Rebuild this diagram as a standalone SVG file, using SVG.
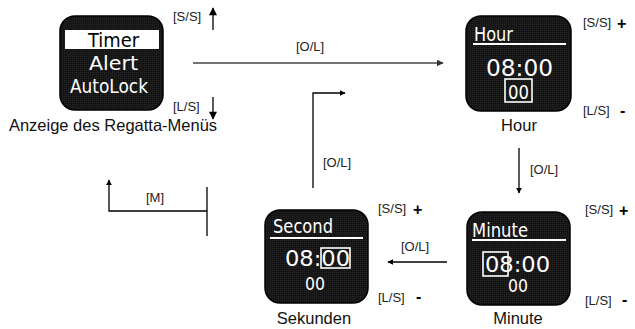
<svg xmlns="http://www.w3.org/2000/svg" width="635" height="329" viewBox="0 0 635 329">
<defs>
<pattern id="dots" width="2" height="2" patternUnits="userSpaceOnUse">
<rect width="2" height="2" fill="#141414"/>
<rect width="1" height="1" fill="#262626"/>
</pattern>
<marker id="ah" viewBox="0 0 10 10" refX="9" refY="5" markerWidth="6" markerHeight="6" orient="auto" markerUnits="userSpaceOnUse">
<path d="M0,0 L10,5 L0,10 z" fill="#000"/>
</marker>
<marker id="ahg" viewBox="0 0 10 10" refX="9" refY="5" markerWidth="7" markerHeight="7" orient="auto" markerUnits="userSpaceOnUse">
<path d="M0,0 L10,5 L0,10 z" fill="#333"/>
</marker>
<marker id="ahb" viewBox="0 0 10 10" refX="9" refY="5" markerWidth="9" markerHeight="8" orient="auto" markerUnits="userSpaceOnUse">
<path d="M0,0 L10,5 L0,10 z" fill="#000"/>
</marker>
</defs>
<style>
.scr{fill:url(#dots);stroke:#000;stroke-width:1.5}
.lcd{font-family:"DejaVu Sans Condensed","DejaVu Sans",sans-serif;fill:#fff}
.cap{font-family:"Liberation Sans",Arial,sans-serif;font-size:16.5px;fill:#111;text-anchor:middle}
.lbl{font-family:"Liberation Sans",Arial,sans-serif;font-size:13px;fill:#222}
.pm{font-family:"Liberation Sans",Arial,sans-serif;font-size:16px;font-weight:bold;fill:#000}
.ln{fill:none;stroke:#000;stroke-width:1.3}
.hl{stroke:#fff;stroke-width:2}
.bx{fill:none;stroke:#fff;stroke-width:1.6}
</style>
<rect width="635" height="329" fill="#fff"/>

<g id="menu">
<rect class="scr" x="60" y="16" width="103" height="94" rx="15"/>
<rect x="65" y="30" width="94" height="19" fill="#fff"/>
<text class="lcd" x="88" y="47" font-size="19" textLength="51" lengthAdjust="spacingAndGlyphs" style="fill:#000">Timer</text>
<text class="lcd" x="89" y="70" font-size="19" textLength="49" lengthAdjust="spacingAndGlyphs">Alert</text>
<text class="lcd" x="70" y="93" font-size="19" textLength="78" lengthAdjust="spacingAndGlyphs">AutoLock</text>
<text class="cap" x="113" y="131">Anzeige des Regatta-Menüs</text>
</g>

<g id="hour">
<rect class="scr" x="466" y="16" width="105" height="95" rx="15"/>
<text class="lcd" x="474" y="41" font-size="19" textLength="39" lengthAdjust="spacingAndGlyphs">Hour</text>
<line class="hl" x1="473" y1="44" x2="566" y2="44"/>
<text class="lcd" x="486" y="76" font-size="23" textLength="67" lengthAdjust="spacingAndGlyphs">08:00</text>
<rect class="bx" x="505" y="79" width="27" height="23"/>
<text class="lcd" x="508" y="99" font-size="20" textLength="21" lengthAdjust="spacingAndGlyphs">00</text>
<text class="cap" x="519" y="131">Hour</text>
<text class="lbl" x="583" y="27">[S/S]</text>
<text class="pm" x="617" y="29">+</text>
<text class="lbl" x="583" y="115">[L/S]</text>
<text class="pm" x="620" y="116">-</text>
</g>

<g id="minute">
<rect class="scr" x="467" y="212" width="103" height="93" rx="15"/>
<text class="lcd" x="472" y="237" font-size="19" textLength="56" lengthAdjust="spacingAndGlyphs">Minute</text>
<line class="hl" x1="472" y1="240" x2="566" y2="240"/>
<rect class="bx" x="483" y="252" width="25" height="24"/>
<text class="lcd" x="485" y="272" font-size="22" textLength="65" lengthAdjust="spacingAndGlyphs">08:00</text>
<text class="lcd" x="508" y="292" font-size="17" textLength="20" lengthAdjust="spacingAndGlyphs">00</text>
<text class="cap" x="518" y="324">Minute</text>
<text class="lbl" x="585" y="214">[S/S]</text>
<text class="pm" x="619" y="216">+</text>
<text class="lbl" x="585" y="305">[L/S]</text>
<text class="pm" x="622" y="305">-</text>
</g>

<g id="second">
<rect class="scr" x="265" y="210" width="103" height="93" rx="15"/>
<text class="lcd" x="273" y="233" font-size="19" textLength="60" lengthAdjust="spacingAndGlyphs">Second</text>
<line class="hl" x1="270" y1="238" x2="363" y2="238"/>
<rect class="bx" x="321" y="248" width="29" height="20"/>
<text class="lcd" x="285" y="266" font-size="22" textLength="65" lengthAdjust="spacingAndGlyphs">08:00</text>
<text class="lcd" x="305" y="290" font-size="17" textLength="20" lengthAdjust="spacingAndGlyphs">00</text>
<text class="cap" x="314" y="324">Sekunden</text>
<text class="lbl" x="378" y="213">[S/S]</text>
<text class="pm" x="413" y="215">+</text>
<text class="lbl" x="378" y="302">[L/S]</text>
<text class="pm" x="416" y="302">-</text>
</g>

<g id="connectors">
<line x1="193" y1="63" x2="443" y2="63" stroke="#444" stroke-width="1.6" marker-end="url(#ahg)"/>
<text class="lbl" x="310" y="51" text-anchor="middle">[O/L]</text>
<line class="ln" x1="519" y1="148" x2="519" y2="193" marker-end="url(#ah)"/>
<text class="lbl" x="530" y="174">[O/L]</text>
<line class="ln" x1="447" y1="262" x2="388" y2="262" marker-end="url(#ah)"/>
<text class="lbl" x="415" y="251" text-anchor="middle">[O/L]</text>
<polyline class="ln" points="313,188 313,93 345,93" marker-end="url(#ah)"/>
<text class="lbl" x="337" y="167" text-anchor="middle">[O/L]</text>
<line class="ln" x1="207" y1="187" x2="207" y2="236"/>
<polyline class="ln" points="207,211 109,211 109,180" marker-end="url(#ah)"/>
<text class="lbl" x="155" y="202" text-anchor="middle">[M]</text>
<text class="lbl" x="173" y="21">[S/S]</text>
<line class="ln" x1="213" y1="30" x2="213" y2="8" stroke-width="1.6" marker-end="url(#ahb)"/>
<text class="lbl" x="173" y="111">[L/S]</text>
<line class="ln" x1="213" y1="97" x2="213" y2="119" stroke-width="1.6" marker-end="url(#ahb)"/>
</g>
</svg>
